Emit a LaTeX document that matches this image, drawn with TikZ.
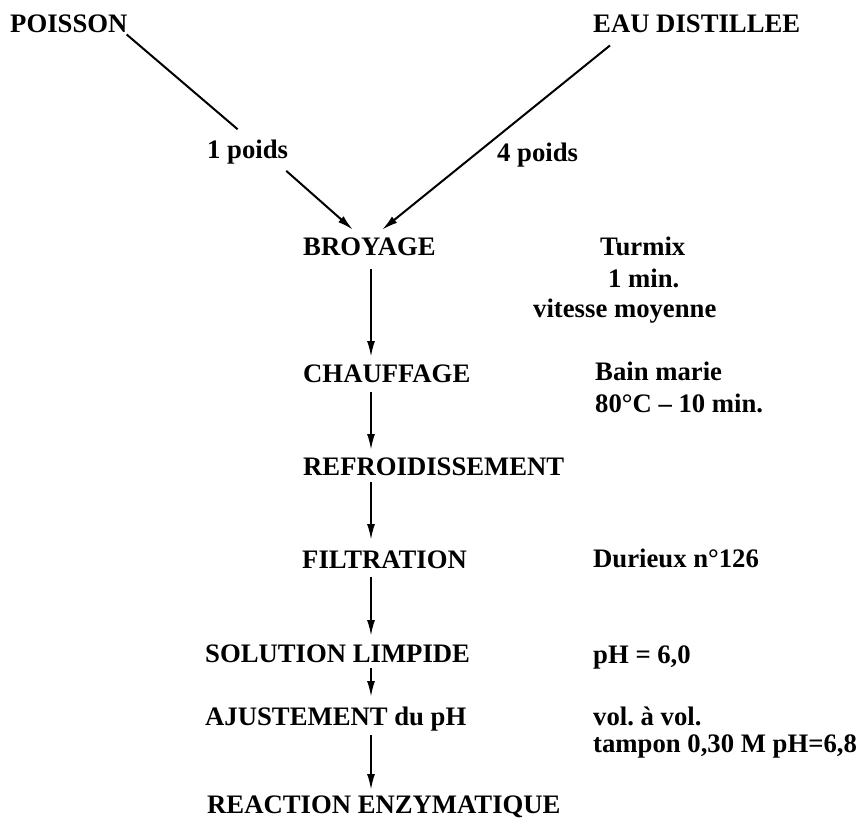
\documentclass[tikz,border=0pt]{standalone}
\usepackage{fontspec}
\setmainfont{Liberation Serif}
\usetikzlibrary{arrows.meta,calc}
\frenchspacing

\tikzset{
  lbl/.style={anchor=base west, inner sep=0pt, font=\fontsize{26.7}{32}\selectfont\bfseries},
  flow/.style={line width=2pt, -{Latex[length=16pt,width=8pt]}},
  feed/.style={line width=2pt}
}

\begin{document}
\begin{tikzpicture}[x=1pt,y=-1pt]
\useasboundingbox (0,0) rectangle (866,821);

% raw materials
\node[lbl] (poisson) at (10,33) {POISSON};
\node[lbl] (eau) at (593,33) {EAU DISTILLEE};
\node[lbl] (p1) at (207,159) {1 poids};
\node[lbl] (p4) at (497,161) {4 poids};

% process steps
\node[lbl] (broyage) at (303,255) {BROYAGE};
\node[lbl] (chauffage) at (303,382) {CHAUFFAGE};
\node[lbl] (refroid) at (303,475) {REFROIDISSEMENT};
\node[lbl] (filtration) at (302,568) {FILTRATION};
\node[lbl] (solution) at (205,662) {SOLUTION LIMPIDE};
\node[lbl] (ajust) at (205,725) {AJUSTEMENT du pH};
\node[lbl] (reaction) at (207,813) {REACTION ENZYMATIQUE};

% conditions of each step
\node[lbl] (turmix) at (600,255) {Turmix};
\node[lbl] (min1) at (608,287) {1 min.};
\node[lbl] (vitesse) at (533,317) {vitesse moyenne};
\node[lbl] (bain) at (595,380) {Bain marie};
\node[lbl] (temp) at (595,412) {80°C – 10 min.};
\node[lbl] (durieux) at (593,567) {Durieux n°126};
\node[lbl] (ph) at (593,663) {pH = 6,0};
\node[lbl] (vol) at (593,725) {vol. à vol.};
\node[lbl] (tampon) at (593,752) {tampon 0,30 M pH=6,8};

% feeds into the grinding step
\draw[feed] ([shift={(-1,1)}]poisson.south east) -- ([shift={(-10,-11)}]p1.north);
\draw[flow] ([shift={(-2,6)}]p1.south east) -- ([shift={(-16.5,-7.3)}]broyage.north);
\draw[flow] ([shift={(17,12)}]eau.south west) -- ([shift={(12.5,-7.3)}]broyage.north);

% vertical flow
\coordinate (axis) at (371,0);
\draw[flow] ($(axis |- broyage.base)+(0,14)$) -- ($(axis |- chauffage.base)+(0,-25)$);
\draw[flow] ($(axis |- chauffage.base)+(0,10)$) -- ($(axis |- refroid.base)+(0,-25)$);
\draw[flow] ($(axis |- refroid.base)+(0,7)$) -- ($(axis |- filtration.base)+(0,-28)$);
\draw[flow] ($(axis |- filtration.base)+(0,9)$) -- ($(axis |- solution.base)+(0,-26)$);
\draw[flow] ($(axis |- solution.base)+(0,6)$) -- ($(axis |- ajust.base)+(0,-28)$);
\draw[flow] ($(axis |- ajust.base)+(0,10)$) -- ($(axis |- reaction.base)+(0,-23)$);
\end{tikzpicture}
\end{document}
